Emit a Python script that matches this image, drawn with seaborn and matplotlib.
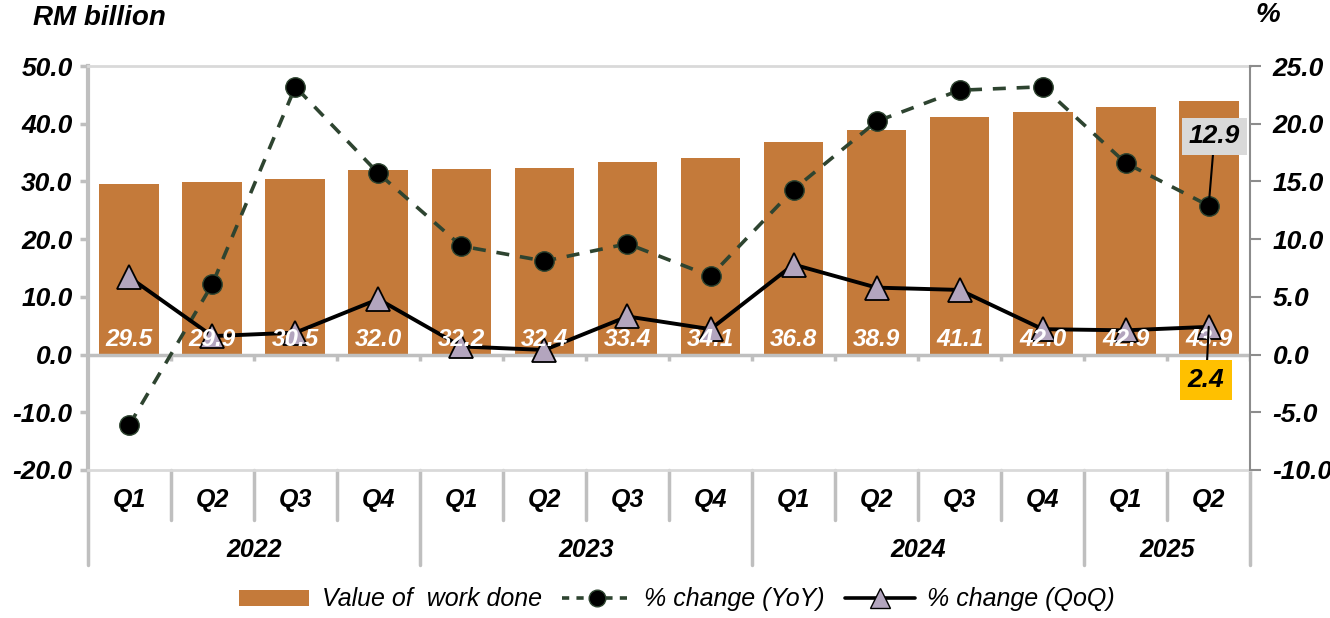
import numpy as np
import pandas as pd
import matplotlib
matplotlib.use('Agg')
import matplotlib.pyplot as plt
import matplotlib.transforms as mtransforms
from matplotlib.lines import Line2D
from matplotlib.patches import Patch
import seaborn as sns

# Data
quarters = ['Q1', 'Q2', 'Q3', 'Q4', 'Q1', 'Q2', 'Q3', 'Q4',
            'Q1', 'Q2', 'Q3', 'Q4', 'Q1', 'Q2']
years = ['2022', '2023', '2024', '2025']
quarters_per_year = [4, 4, 4, 2]
work_done = [29.5, 29.9, 30.5, 32.0, 32.2, 32.4, 33.4, 34.1,
             36.8, 38.9, 41.1, 42.0, 42.9, 43.9]
yoy = [-6.1, 6.1, 23.2, 15.7, 9.4, 8.1, 9.6, 6.8,
       14.3, 20.2, 22.9, 23.2, 16.6, 12.9]
qoq = [6.7, 1.6, 1.9, 4.8, 0.7, 0.4, 3.3, 2.2,
       7.8, 5.8, 5.6, 2.2, 2.1, 2.4]

bar_color = '#C47A3A'
yoy_color = '#2E4430'
tri_color = '#B3A5BE'
grey = '#BFBFBF'

sns.set_style('white')
plt.rcParams['font.family'] = ['Liberation Sans', 'DejaVu Sans']
plt.rcParams['text.color'] = 'black'
plt.rcParams['axes.labelcolor'] = 'black'

df = pd.DataFrame({'pos': np.arange(len(work_done)), 'value': work_done,
                   'yoy': yoy, 'qoq': qoq})

fig = plt.figure(figsize=(13.3, 6.18), dpi=100)
ax = fig.add_axes([0.066, 0.2395, 0.874, 0.6537])

sns.barplot(data=df, x='pos', y='value', color=bar_color, saturation=1,
            width=0.72, linewidth=0, ax=ax, zorder=2)
ax.set_xlim(-0.5, len(df) - 0.5)
ax.set_ylim(-20, 50)
ax.set_yticks(np.arange(-20, 51, 10))
ax.set_yticklabels([f'{v:.1f}' for v in np.arange(-20, 51, 10)])
ax.set_xticks([])
ax.set_xlabel('')
ax.set_ylabel('')
ax.axhline(0, color=grey, lw=2.5, zorder=3)
# small ticks on the zero line between categories
bounds = np.arange(len(df) + 1) - 0.5
ax.vlines(bounds[1:], -1.1, 0, color=grey, lw=2.5, zorder=3)

for side in ['top', 'bottom']:
    ax.spines[side].set_color('#D9D9D9')
    ax.spines[side].set_linewidth(2)
ax.spines['left'].set_color(grey)
ax.spines['left'].set_linewidth(3)
ax.spines['right'].set_visible(False)
ax.tick_params(axis='y', direction='out', length=6, width=2.5, color=grey,
               labelcolor='black', pad=5, labelsize=19)
for t in ax.get_yticklabels():
    t.set_fontweight('bold')
    t.set_fontstyle('italic')

ax2 = ax.twinx()
ax2.set_ylim(-10, 25)
ax2.set_yticks(np.arange(-10, 26, 5))
ax2.set_yticklabels([f'{v:.1f}' for v in np.arange(-10, 26, 5)])
sns.lineplot(data=df, x='pos', y='yoy', ax=ax2, color=yoy_color,
             lw=2.6, marker='o', markersize=14,
             markerfacecolor='black', markeredgecolor=yoy_color,
             markeredgewidth=1, zorder=4)
ax2.lines[-1].set_linestyle((0, (3.6, 3.0)))
sns.lineplot(data=df, x='pos', y='qoq', ax=ax2, color='black', lw=2.8,
             marker='^', markersize=17, markerfacecolor=tri_color,
             markeredgecolor='black', markeredgewidth=1.3, zorder=4)
ax2.set_xlim(-0.5, len(df) - 0.5)
ax2.set_xlabel('')
ax2.set_ylabel('')
for side in ['top', 'bottom', 'left']:
    ax2.spines[side].set_visible(False)
ax2.spines['right'].set_color('#8C8C8C')
ax2.spines['right'].set_linewidth(1.5)
ax2.tick_params(axis='y', direction='out', length=8, width=1.5,
                color='#8C8C8C', labelcolor='black', pad=8, labelsize=19)
for t in ax2.get_yticklabels():
    t.set_fontweight('bold')
    t.set_fontstyle('italic')

# bar value labels (on top of the lines)
for i, v in enumerate(work_done):
    ax2.text(i, 2.6, f'{v:.1f}', transform=ax.transData, ha='center',
             va='center', color='white', fontsize=17.5, fontweight='bold',
             fontstyle='italic', zorder=6)

# callouts on the latest quarter
ax2.annotate('12.9', xy=(13, yoy[-1]), xytext=(13.07, 18.9),
             ha='center', va='center', fontsize=19, fontweight='bold',
             fontstyle='italic',
             bbox=dict(boxstyle='square,pad=0.25', fc='#D9D9D9', ec='none'),
             arrowprops=dict(arrowstyle='-', color='black', lw=1.5,
                             shrinkA=0, shrinkB=0), zorder=7)
ax2.annotate('2.4', xy=(13, qoq[-1]), xytext=(12.97, -2.2),
             ha='center', va='center', fontsize=19, fontweight='bold',
             fontstyle='italic',
             bbox=dict(boxstyle='square,pad=0.3', fc='#FFC000', ec='none'),
             arrowprops=dict(arrowstyle='-', color='black', lw=1.5,
                             shrinkA=0, shrinkB=0), zorder=7)

# two-level category axis below the plot
trans = mtransforms.blended_transform_factory(ax.transData, ax.transAxes)
year_edges = np.concatenate([[0], np.cumsum(quarters_per_year)]) - 0.5
for b in bounds:
    bottom = -0.235 if b in year_edges else -0.124
    ax.add_line(Line2D([b, b], [0, bottom], transform=trans, color=grey,
                       lw=2.5, clip_on=False))
for i, q in enumerate(quarters):
    ax.text(i, -0.074, q, transform=trans, ha='center', va='center',
            fontsize=18, fontweight='bold', fontstyle='italic')
for k, y in enumerate(years):
    mid = (year_edges[k] + year_edges[k + 1]) / 2
    ax.text(mid, -0.198, y, transform=trans, ha='center', va='center',
            fontsize=18, fontweight='bold', fontstyle='italic')

fig.text(0.025, 0.971, 'RM billion', ha='left', va='center', fontsize=20,
         fontweight='bold', fontstyle='italic')
fig.text(0.953, 0.976, '%', ha='center', va='center', fontsize=20,
         fontweight='bold', fontstyle='italic')

handles = [Patch(facecolor=bar_color, edgecolor='none'),
           Line2D([], [], color=yoy_color, linestyle=(0, (2, 2)), lw=2.6,
                  marker='o', markersize=12, markerfacecolor='black',
                  markeredgecolor=yoy_color),
           Line2D([], [], color='black', lw=2.6, marker='^', markersize=14,
                  markerfacecolor=tri_color, markeredgecolor='black')]
labels = ['Value of  work done', '% change (YoY)', '% change (QoQ)']
fig.legend(handles, labels, loc='center', bbox_to_anchor=(0.509, 0.03),
           ncol=3, frameon=False, handlelength=2.8, handleheight=0.6,
           columnspacing=0.8, handletextpad=0.5,
           prop={'style': 'italic', 'size': 18})

fig.savefig('out.png', dpi=100)
